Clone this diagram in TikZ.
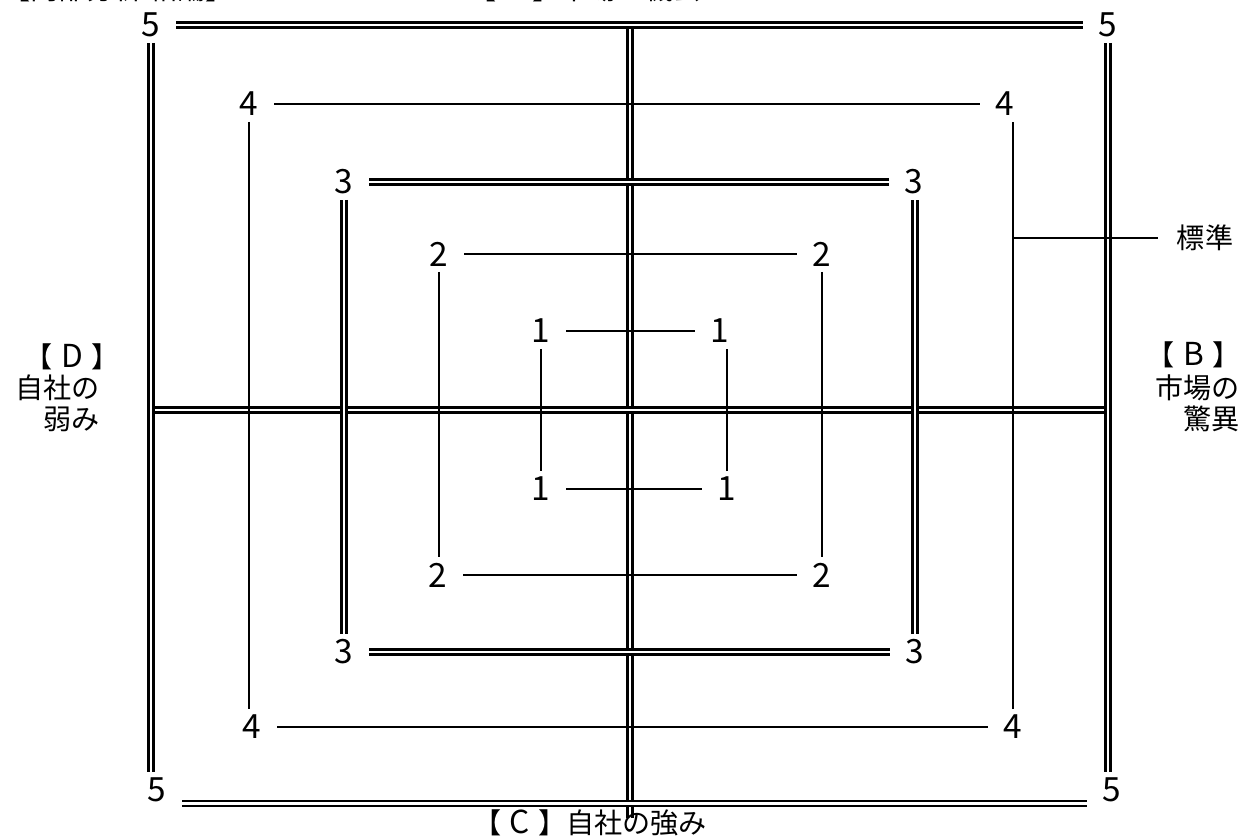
\documentclass[tikz,border=0pt]{standalone}
\usepackage{fontspec}
\setmainfont{Noto Sans CJK JP}
\usetikzlibrary{calc}
\newcommand{\bkt}[1]{【\hspace{0.3em}{\fontsize{18pt}{20pt}\selectfont #1}\hspace{0.3em}】}
\tikzset{
  numlbl/.style={inner sep=0pt,minimum width=1cm,minimum height=0.7cm,
    font=\fontsize{19pt}{22pt}\selectfont},
  dedge/.style={line width=1.4pt,double=white,double distance=1.5pt},
  sedge/.style={line width=0.7pt},
  sidelbl/.style={inner sep=0pt,align=right},
}
\begin{document}
\begin{tikzpicture}[x=0.02cm,y=-0.02cm,font=\fontsize{16pt}{18pt}\selectfont]
  \useasboundingbox (0,0) rectangle (1244,839);
  % level labels
  \node[numlbl] (5tl) at (151,25) {5};
  \node[numlbl] (5tr) at (1108,25) {5};
  \node[numlbl] (5bl) at (157,790) {5};
  \node[numlbl] (5br) at (1112,790) {5};
  \node[numlbl] (4tl) at (249,104) {4};
  \node[numlbl] (4tr) at (1005,104) {4};
  \node[numlbl] (4bl) at (252,727) {4};
  \node[numlbl] (4br) at (1013,727) {4};
  \node[numlbl] (3tl) at (344,182) {3};
  \node[numlbl] (3tr) at (914,182) {3};
  \node[numlbl] (3bl) at (344,652) {3};
  \node[numlbl] (3br) at (915,652) {3};
  \node[numlbl] (2tl) at (439,254) {2};
  \node[numlbl] (2tr) at (822,254) {2};
  \node[numlbl] (2bl) at (438,575) {2};
  \node[numlbl] (2br) at (822,575) {2};
  \node[numlbl] (1tl) at (541,331) {1};
  \node[numlbl] (1tr) at (720,331) {1};
  \node[numlbl] (1bl) at (541,489) {1};
  \node[numlbl] (1br) at (727,489) {1};
  % center cross
  \coordinate (ctop) at (630,22);
  \coordinate (cbot) at (630,818);
  \coordinate (cleft) at (150,410);
  \coordinate (cright) at (1110,410);
  \draw[dedge] (ctop) -- (cbot);
  \draw[dedge] (cleft) -- (cright);
  % ring 5
  \draw[dedge] (5tl.east) -- (5tl.east -| 5tr.west);
  \draw[dedge] ([yshift=-0.27cm]5bl.east) -- ([yshift=-0.27cm]5bl.east -| 5br.west);
  \draw[dedge] (5tl.south) -- (5tl.south |- 5bl.north);
  \draw[dedge] (5tr.south) -- (5tr.south |- 5br.north);
  % ring 4
  \draw[sedge] (4tl.east) -- (4tl.east -| 4tr.west);
  \draw[sedge] (4bl.east) -- (4bl.east -| 4br.west);
  \draw[sedge] (4tl.south) -- (4tl.south |- 4bl.north);
  \draw[sedge] (4br.north) -- (4br.north |- 4tr.south);
  % ring 3
  \draw[dedge] (3tl.east) -- (3tl.east -| 3tr.west);
  \draw[dedge] (3bl.east) -- (3bl.east -| 3br.west);
  \draw[dedge] (3tl.south) -- (3tl.south |- 3bl.north);
  \draw[dedge] (3br.north) -- (3br.north |- 3tr.south);
  % ring 2
  \draw[sedge] (2tl.east) -- (2tl.east -| 2tr.west);
  \draw[sedge] (2bl.east) -- (2bl.east -| 2br.west);
  \draw[sedge] (2tl.south) -- (2tl.south |- 2bl.north);
  \draw[sedge] (2tr.south) -- (2tr.south |- 2br.north);
  % ring 1
  \draw[sedge] (1tl.east) -- (1tl.east -| 1tr.west);
  \draw[sedge] (1bl.east) -- (1bl.east -| 1br.west);
  \draw[sedge] (1tl.south) -- (1tl.south |- 1bl.north);
  \draw[sedge] (1br.north) -- (1br.north |- 1tr.south);
  % standard
  \node[inner sep=0pt] (std) at (1205,238) {標準};
  \draw[sedge,shorten <=0.38cm] (std.west) -- (std.west -| 4br.north);
  % side texts
  \node (toptitle) at (118,-11) {【内部分析 結論】};
  \node (ahead) at (585,-11) {\bkt{A}市場の機会};
  \node (dhead) at (72,357) {\bkt{D}};
  \node[sidelbl,anchor=north east] (dtext) at (100,374) {自社の\\弱み};
  \node[inner sep=0pt,anchor=east] (bhead) at (1241,355) {\bkt{B}};
  \node[sidelbl,anchor=north east] (btext) at (1240,374) {市場の\\驚異};
  \node (chead) at (590,823) {\bkt{C}自社の強み};
\end{tikzpicture}
\end{document}
